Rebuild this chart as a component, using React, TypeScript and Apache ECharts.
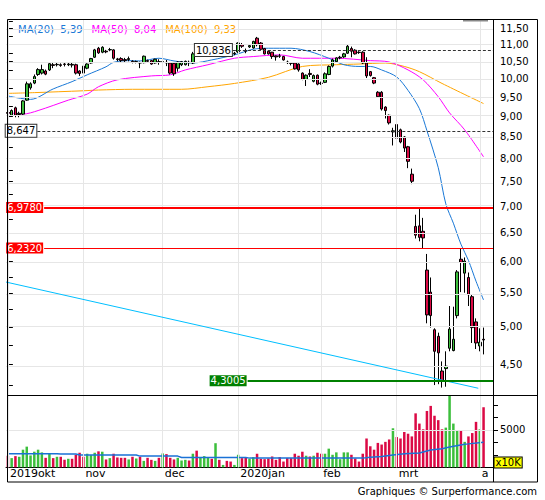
import React, { useEffect, useRef } from "react";
import * as echarts from "echarts";

// ---------- categories / axes ----------
const monthLabels = ["2019okt", "nov", "dec", "2020jan", "feb", "mrt", "a"];
const monthStartIdx = [0, 20, 41, 61, 83, 103, 125];
const slotCount = 129;

// ---------- OHLC (one value per trading day, Oct 4 2019 .. Apr 2 2020) ----------
const opens = [
  9.10, 9.03, 9.22, 9.05, 9.06, 9.42, 9.75, 9.88, 10.12, 10.16,
  10.22, 10.25, 10.40, 10.40, 10.40, 10.42, 10.40, 10.41, 10.40, 10.22,
  10.36, 10.30, 10.45, 10.62, 10.89, 10.77, 10.80, 10.84, 10.84, 10.57,
  10.58, 10.55, 10.55, 10.50, 10.48, 10.46, 10.46, 10.52, 10.52, 10.45,
  10.49, 10.48, 10.47, 10.45, 10.44, 10.30, 10.40, 10.40, 10.47, 10.45,
  10.78, 10.72, 10.78, 10.84, 10.90, 10.82, 10.94, 10.84, 10.88, 10.82,
  10.72, 10.78, 11.00, 10.82, 10.93, 10.90, 11.20, 11.05, 10.88, 10.80,
  10.77, 10.66, 10.66, 10.64, 10.48, 10.45, 10.45, 10.42, 10.16, 9.98,
  10.15, 9.93, 10.10, 9.88, 9.90, 10.12, 10.36, 10.49, 10.60, 10.63,
  10.74, 10.88, 10.83, 10.77, 10.77, 10.45, 10.20, 10.03, 9.63, 9.63,
  9.24, 9.03, 8.62, 8.80, 8.67, 8.50, 8.27, 7.66, 6.62, 6.63,
  6.53, 5.86, 5.51, 4.96, 4.87, 4.42, 4.45, 4.71, 4.68, 5.16,
  6.04, 5.81, 5.74, 5.44, 5.07, 4.74, 4.83,
];
const highs = [
  9.18, 9.18, 9.25, 9.12, 9.42, 9.92, 9.90, 10.12, 10.30, 10.40,
  10.26, 10.46, 10.48, 10.45, 10.44, 10.46, 10.46, 10.45, 10.43, 10.24,
  10.40, 10.44, 10.60, 10.87, 10.93, 10.95, 10.84, 10.90, 10.86, 10.60,
  10.62, 10.60, 10.64, 10.53, 10.52, 10.49, 10.67, 10.55, 10.54, 10.58,
  10.56, 10.52, 10.54, 10.48, 10.46, 10.50, 10.51, 10.52, 10.52, 10.78,
  10.82, 10.84, 10.90, 10.95, 10.93, 11.00, 10.98, 10.92, 10.92, 10.85,
  10.78, 11.07, 11.05, 10.88, 11.00, 11.12, 11.24, 11.08, 10.90, 10.82,
  10.78, 10.67, 10.72, 10.66, 10.52, 10.47, 10.47, 10.44, 10.18, 10.12,
  10.27, 10.12, 10.12, 9.92, 10.18, 10.38, 10.58, 10.62, 10.66, 10.75,
  11.00, 10.94, 10.86, 10.80, 10.80, 10.62, 10.22, 10.05, 9.66, 9.66,
  9.26, 9.05, 8.72, 8.82, 8.70, 8.52, 8.29, 7.78, 6.84, 6.978,
  6.78, 6.13, 5.74, 4.98, 4.92, 4.54, 4.67, 5.30, 5.29, 5.86,
  6.23, 6.07, 5.82, 5.47, 5.12, 4.98, 4.99,
];
const lows = [
  9.00, 9.00, 8.98, 8.98, 9.03, 9.40, 9.70, 9.85, 10.08, 10.12,
  10.10, 10.22, 10.30, 10.35, 10.34, 10.35, 10.36, 10.32, 10.12, 10.08,
  10.12, 10.27, 10.43, 10.60, 10.72, 10.74, 10.74, 10.80, 10.55, 10.50,
  10.45, 10.48, 10.50, 10.44, 10.44, 10.30, 10.44, 10.48, 10.40, 10.43,
  10.40, 10.45, 10.36, 10.12, 10.08, 10.20, 10.36, 10.38, 10.36, 10.42,
  10.66, 10.70, 10.75, 10.80, 10.78, 10.80, 10.82, 10.80, 10.76, 10.72,
  10.68, 10.75, 10.90, 10.74, 10.90, 10.88, 10.95, 10.84, 10.70, 10.70,
  10.57, 10.52, 10.60, 10.52, 10.42, 10.38, 10.26, 10.20, 9.96, 9.80,
  10.05, 9.90, 9.82, 9.83, 9.88, 10.10, 10.32, 10.45, 10.56, 10.60,
  10.72, 10.62, 10.70, 10.72, 10.42, 10.02, 10.06, 9.85, 9.48, 9.15,
  8.95, 8.80, 8.30, 8.28, 8.35, 8.15, 7.79, 7.45, 6.40, 6.35,
  6.232, 5.05, 4.99, 4.25, 4.26, 4.22, 4.23, 4.67, 4.67, 5.12,
  5.51, 5.50, 5.30, 4.78, 4.70, 4.67, 4.63,
];
const closes = [
  9.08, 9.15, 9.03, 9.08, 9.40, 9.86, 9.86, 10.06, 10.26, 10.26,
  10.13, 10.43, 10.38, 10.41, 10.38, 10.41, 10.42, 10.39, 10.16, 10.15,
  10.16, 10.42, 10.58, 10.84, 10.75, 10.92, 10.78, 10.85, 10.59, 10.55,
  10.52, 10.52, 10.58, 10.47, 10.49, 10.45, 10.65, 10.50, 10.42, 10.56,
  10.48, 10.49, 10.45, 10.16, 10.14, 10.48, 10.49, 10.50, 10.46, 10.72,
  10.70, 10.80, 10.86, 10.90, 10.82, 10.95, 10.85, 10.88, 10.80, 10.74,
  10.74, 11.05, 10.95, 10.80, 10.97, 11.10, 11.00, 10.86, 10.72, 10.72,
  10.64, 10.63, 10.65, 10.54, 10.46, 10.44, 10.28, 10.25, 9.98, 10.10,
  10.12, 10.09, 9.85, 9.87, 10.14, 10.35, 10.54, 10.60, 10.62, 10.72,
  10.95, 10.80, 10.72, 10.76, 10.45, 10.08, 10.09, 9.88, 9.51, 9.19,
  9.15, 8.84, 8.647, 8.47, 8.38, 8.24, 7.94, 7.51, 6.46, 6.42,
  6.41, 5.17, 5.16, 4.67, 4.65, 4.3005, 4.48, 4.97, 4.83, 5.83,
  5.99, 6.01, 5.47, 4.99, 4.78, 4.79, 4.82,
];
// volume, in units of 10K
const volumes = [
  1545, 1230, 1500, 1410, 2360, 2770, 1590, 2090, 2360, 2000,
  1270, 1860, 1230, 1410, 1410, 1000, 1140, 1140, 1680, 1950,
  1410, 1820, 1640, 1950, 2140, 2090, 1050, 1230, 1820, 1320,
  1270, 1270, 1050, 1410, 1180, 1410, 860, 1270, 1000, 860,
  1270, 1860, 1770, 1270, 1050, 1270, 910, 1000, 910, 1820,
  2230, 1320, 1500, 1270, 1140, 3230, 1000, 320, 860, 770,
  320, 1680, 1230, 1270, 1140, 1360, 1820, 1140, 1090, 1180,
  1450, 1000, 1360, 770, 1230, 1230, 1820, 1550, 2090, 1550,
  1450, 1550, 1950, 1820, 1820, 2500, 1680, 2000, 1090, 2000,
  2000, 1680, 1180, 770, 1820, 3860, 2820, 2360, 3270, 3050,
  3410, 3730, 5230, 4050, 3860, 4730, 4500, 4140, 7230, 5860,
  5090, 7550, 8230, 6910, 6320, 5090, 5320, 9730, 5860, 5000,
  5000, 3410, 4140, 4590, 6090, 5090, 8050,
];

// ---------- moving averages (at sample days) ----------
const ma20Idx = [0, 6, 12, 17, 21, 26, 28, 32, 35, 40, 44, 49, 54, 60, 65, 69, 75, 80, 85, 89, 93, 96, 99, 103, 106, 109, 111, 114, 116, 118, 120, 122, 124, 126];
const ma20Val = [9.53, 9.44, 9.72, 9.92, 10.11, 10.34, 10.47, 10.52, 10.51, 10.59, 10.51, 10.45, 10.54, 10.69, 10.86, 10.89, 10.89, 10.79, 10.59, 10.40, 10.35, 10.35, 10.25, 10.05, 9.68, 9.20, 8.65, 7.80, 7.05, 6.68, 6.30, 6.02, 5.68, 5.39];
const ma50Idx = [0, 4, 8, 16, 21, 24, 29, 38, 43, 47, 53, 60, 65, 72, 78, 87, 96, 101, 106, 110, 114, 117, 121, 126];
const ma50Val = [9.10, 9.06, 9.15, 9.42, 9.58, 9.78, 9.97, 10.08, 10.11, 10.25, 10.40, 10.59, 10.64, 10.69, 10.59, 10.59, 10.52, 10.48, 10.25, 9.97, 9.51, 9.09, 8.67, 8.04];
const ma100Idx = [0, 7, 20, 24, 33, 46, 53, 60, 69, 78, 87, 93, 100, 105, 109, 115, 126];
const ma100Val = [9.60, 9.62, 9.67, 9.69, 9.71, 9.71, 9.78, 9.87, 10.04, 10.35, 10.40, 10.42, 10.45, 10.35, 10.20, 9.87, 9.33];
const volMaIdx = [0, 13, 14, 18, 19, 34, 35, 45, 46, 63, 64, 94, 96, 99, 102, 105, 109, 112, 115, 117, 121, 122, 126];
const volMaVal = [1820, 1820, 1770, 1770, 1640, 1640, 1500, 1500, 1320, 1320, 1230, 1230, 1360, 1450, 1640, 1820, 1910, 2320, 2500, 2730, 3090, 3140, 3360];

// ---------- trend line and horizontal levels ----------
const trendIdx = [-0.5, 124.6];
const trendVal = [5.667, 4.212];
const levelValues = [10.836, 8.647, 6.978, 6.232, 4.3005];
const levelLabels = ["10,836", "8,647", "6,9780", "6,2320", "4,3005"];
const levelStartIdx = [59.6, 7.8, 9.6, 9.6, 63.5];
const levelEndIdx = 128.5;

// ---------- axis ticks ----------
const priceTickValues = [4.5, 5, 5.5, 6, 6.5, 7, 7.5, 8, 8.5, 9, 9.5, 10, 10.5, 11, 11.5];
const priceMinorTickValues = [4.25, 4.5, 4.75, 5, 5.25, 5.5, 5.75, 6, 6.25, 6.5, 6.75, 7, 7.25, 7.5, 7.75, 8, 8.25, 8.5, 8.75, 9, 9.25, 9.5, 9.75, 10, 10.25, 10.5, 10.75, 11, 11.25, 11.5, 11.75];
const priceAxisMin = 4.13;
const priceAxisMax = 11.817;
const volumeTickValues = [1667, 3333, 5000, 6667, 8333];
const volumeLabelValues = [5000];
const volumeAxisMax = 9650;

// ---------- styling ----------
const FONT = "DejaVu Sans, Verdana, sans-serif";
const UP = "#3cbf3c";
const DOWN = "#db0a45";
const GRID = "#e6e6e6";
const C_MA20 = "#1a78d6";
const C_MA50 = "#ff00ff";
const C_MA100 = "#ffa500";

const ln = Math.log;
const fmt2 = (v: number) => v.toFixed(2).replace(".", ",");

function buildOption(): any {
  const cats = Array.from({ length: slotCount }, (_, i) => String(i));
  const candle = opens.map((o, i) => [ln(o), ln(closes[i]), ln(lows[i]), ln(highs[i])]);
  const vols = volumes.map((v, i) => ({
    value: v,
    itemStyle: { color: closes[i] >= opens[i] ? UP : DOWN },
  }));
  const pairs = (idx: number[], val: number[]) => idx.map((x, k) => [x, ln(val[k])]);
  const legendValues: Record<string, string> = {
    "MA(20)": fmt2(ma20Val[ma20Val.length - 1]),
    "MA(50)": fmt2(ma50Val[ma50Val.length - 1]),
    "MA(100)": fmt2(ma100Val[ma100Val.length - 1]),
  };

  const levelStyles = [
    { line: { color: "#333", width: 1, type: [3, 2] }, label: { backgroundColor: "#fff", borderColor: "#333", borderWidth: 1, color: "#000", padding: [1, 1, 0, 1] } },
    { line: { color: "#333", width: 1, type: [3, 2] }, label: { backgroundColor: "#fff", borderColor: "#333", borderWidth: 1, color: "#000", padding: [1, 1, 0, 1] } },
    { line: { color: "#ff0000", width: 2, type: "solid" }, label: { backgroundColor: "#ff0000", color: "#fff", padding: [0, 1, 0, 1] } },
    { line: { color: "#ff0000", width: 1, type: "solid" }, label: { backgroundColor: "#ff0000", color: "#fff", padding: [0, 1, 0, 1] } },
    { line: { color: "#008000", width: 2, type: "solid" }, label: { backgroundColor: "#008000", color: "#fff", padding: [0, 1, 0, 1] } },
  ];

  const levelLines = levelValues.map((v, k) => [
    {
      coord: [levelStartIdx[k], ln(v)],
      lineStyle: levelStyles[k].line,
      label: {
        show: true,
        position: "start",
        distance: 1,
        formatter: levelLabels[k],
        fontFamily: FONT,
        fontSize: 10,
        lineHeight: 11,
        ...levelStyles[k].label,
      },
    },
    { coord: [levelEndIdx, ln(v)] },
  ]);

  const trendLine = [
    {
      coord: [trendIdx[0], ln(trendVal[0])],
      lineStyle: { color: "#00bfff", width: 1, type: "solid" },
      label: { show: false },
    },
    { coord: [trendIdx[1], ln(trendVal[1])] },
  ];

  const gridLineStyle = { color: GRID, width: 1, type: "solid" };

  return {
    animation: false,
    backgroundColor: "#fff",
    textStyle: { fontFamily: FONT },
    legend: {
      left: 8,
      top: 19,
      icon: "none",
      itemWidth: 0,
      itemHeight: 10,
      itemGap: 4,
      selectedMode: false,
      textStyle: { fontFamily: FONT, fontSize: 10 },
      formatter: (name: string) => `${name}  ${legendValues[name]}`,
      data: [
        { name: "MA(20)", textStyle: { color: C_MA20 } },
        { name: "MA(50)", textStyle: { color: C_MA50 } },
        { name: "MA(100)", textStyle: { color: C_MA100 } },
      ],
    },
    grid: [
      { left: 6, top: 19, width: 487, height: 376.3, containLabel: false, outerBoundsMode: "none" },
      { left: 6, top: 395.3, width: 487, height: 72, containLabel: false, outerBoundsMode: "none" },
    ],
    xAxis: [
      {
        type: "category", gridIndex: 0, data: cats, boundaryGap: true,
        axisLine: { show: false }, axisTick: { show: false }, axisLabel: { show: false }, splitLine: { show: false },
      },
      {
        type: "category", gridIndex: 1, data: cats, boundaryGap: true,
        axisLine: { show: true, lineStyle: { color: "#000", width: 1 } },
        axisTick: { show: false },
        splitLine: { show: false },
        axisLabel: {
          show: true,
          interval: (index: number) => monthStartIdx.includes(index),
          formatter: (_v: string, index: number) => {
            const k = monthStartIdx.indexOf(index);
            return k >= 0 ? monthLabels[k] : "";
          },
          align: "left",
          padding: [0, 0, 0, 2],
          margin: 1,
          color: "#000",
          fontSize: 11,
          fontFamily: FONT,
        },
      },
      { type: "value", gridIndex: 0, min: -0.5, max: slotCount - 0.5, show: false },
    ],
    yAxis: [
      {
        type: "value", gridIndex: 0, position: "right",
        min: ln(priceAxisMin), max: ln(priceAxisMax),
        axisLine: { show: false },
        splitLine: { show: false },
        axisTick: { show: true, length: 5, customValues: priceMinorTickValues.map(ln), lineStyle: { color: "#000", width: 1 } },
        axisLabel: {
          show: true,
          customValues: priceTickValues.map(ln),
          formatter: (v: number) => fmt2(Math.exp(v)),
          margin: 7, color: "#000", fontSize: 10, fontFamily: FONT,
        },
      },
      {
        type: "value", gridIndex: 1, position: "right", min: 0, max: volumeAxisMax,
        axisLine: { show: false },
        splitLine: { show: false },
        axisTick: { show: true, length: 5, customValues: volumeTickValues, lineStyle: { color: "#000", width: 1 } },
        axisLabel: {
          show: true, customValues: volumeLabelValues, formatter: (v: number) => String(Math.round(v)),
          margin: 7, color: "#000", fontSize: 10, fontFamily: FONT,
        },
      },
    ],
    series: [
      {
        type: "line", name: "gridMain", xAxisIndex: 0, yAxisIndex: 0, data: [], z: 1, silent: true,
        markLine: {
          silent: true, symbol: ["none", "none"], label: { show: false }, lineStyle: gridLineStyle,
          data: [
            ...priceTickValues.map((v) => ({ yAxis: ln(v) })),
            ...monthStartIdx.map((i) => ({ xAxis: i })),
          ],
        },
      },
      {
        type: "line", name: "gridVol", xAxisIndex: 1, yAxisIndex: 1, data: [], z: 1, silent: true,
        markLine: {
          silent: true, symbol: ["none", "none"], label: { show: false }, lineStyle: gridLineStyle,
          data: [{ yAxis: volumeLabelValues[0] }, ...monthStartIdx.map((i) => ({ xAxis: i }))],
        },
      },
      {
        type: "line", name: "MA(100)", xAxisIndex: 2, yAxisIndex: 0, data: pairs(ma100Idx, ma100Val),
        symbol: "none", smooth: 0.3, lineStyle: { color: C_MA100, width: 1 }, itemStyle: { color: C_MA100 }, z: 2,
      },
      {
        type: "line", name: "MA(50)", xAxisIndex: 2, yAxisIndex: 0, data: pairs(ma50Idx, ma50Val),
        symbol: "none", smooth: 0.3, lineStyle: { color: C_MA50, width: 1 }, itemStyle: { color: C_MA50 }, z: 2,
      },
      {
        type: "line", name: "MA(20)", xAxisIndex: 2, yAxisIndex: 0, data: pairs(ma20Idx, ma20Val),
        symbol: "none", smooth: 0.3, lineStyle: { color: C_MA20, width: 1 }, itemStyle: { color: C_MA20 }, z: 2,
      },
      {
        type: "candlestick", name: "price", xAxisIndex: 0, yAxisIndex: 0, data: candle, barWidth: 3, z: 3,
        itemStyle: { color: UP, color0: DOWN, borderColor: "#000", borderColor0: "#000", borderWidth: 1 },
      },
      {
        type: "line", name: "levels", xAxisIndex: 2, yAxisIndex: 0, data: [], z: 4, silent: true,
        markLine: {
          silent: true, symbol: ["none", "none"], label: { show: false },
          data: [trendLine, ...levelLines],
        },
      },
      {
        type: "bar", name: "volume", xAxisIndex: 1, yAxisIndex: 1, data: vols, barWidth: 2.5, z: 2,
      },
      {
        type: "line", name: "volMA", xAxisIndex: 1, yAxisIndex: 1, data: volMaIdx.map((x, k) => [x, volMaVal[k]]),
        symbol: "none", lineStyle: { color: "#1a72d6", width: 1.5 }, z: 3,
      },
    ],
    graphic: [
      { type: "rect", silent: true, z: 100, shape: { x: 7.5, y: 19.5, width: 530, height: 462.5 }, style: { fill: "none", stroke: "#000", lineWidth: 1 } },
      { type: "line", silent: true, z: 100, shape: { x1: 493.5, y1: 19.5, x2: 493.5, y2: 482 }, style: { stroke: "#000", lineWidth: 1 } },
      { type: "line", silent: true, z: 100, shape: { x1: 7.5, y1: 395.5, x2: 537.5, y2: 395.5 }, style: { stroke: "#000", lineWidth: 1 } },
      { type: "rect", silent: true, z: 100, shape: { x: 463, y: 20, width: 25, height: 1.5 }, style: { fill: "#888" } },
      {
        type: "text", silent: true, z: 100, x: 494.5, y: 457.5,
        style: { text: "x10K", fill: "#000", backgroundColor: "#ffff00", borderColor: "#000", borderWidth: 1, padding: [0, 1, 0, 1], font: `10px ${FONT}` },
      },
      {
        type: "text", silent: true, z: 100, x: 537, y: 491,
        style: { text: "Graphiques © Surperformance.com", fill: "#000", align: "right", verticalAlign: "middle", font: `10px ${FONT}` },
      },
    ],
  };
}

export default function App() {
  const ref = useRef<HTMLDivElement>(null);
  useEffect(() => {
    document.body.style.margin = "0";
    const chart = echarts.init(ref.current as HTMLDivElement, null, { renderer: "svg" });
    chart.setOption(buildOption());
    return () => chart.dispose();
  }, []);
  return <div ref={ref} style={{ width: 545, height: 500, background: "#fff" }} />;
}
